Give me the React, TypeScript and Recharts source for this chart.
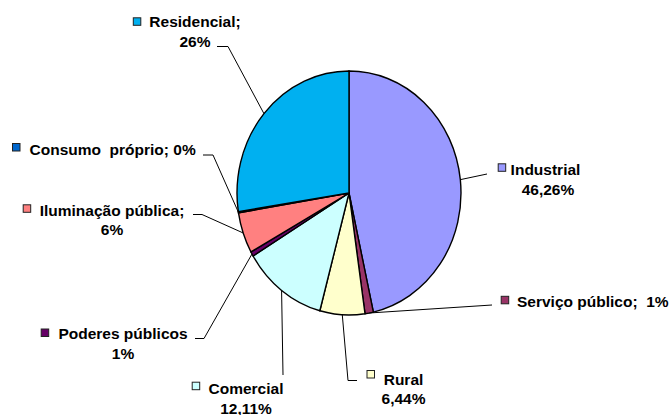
import React from 'react';
import { PieChart, Pie, Cell } from 'recharts';

// ---- data ----
const categories = [
  'Industrial',
  'Serviço público',
  'Rural',
  'Comercial',
  'Poderes públicos',
  'Iluminação pública',
  'Consumo próprio',
  'Residencial',
];
const shares = [46.26, 1.2, 6.44, 12.11, 0.6, 5.4, 0.15, 27.3];
const labelTexts: string[][] = [
  ['Industrial', '46,26%'],
  ['Serviço público;  1%'],
  ['Rural', '6,44%'],
  ['Comercial', '12,11%'],
  ['Poderes públicos', '1%'],
  ['Iluminação pública;', '6%'],
  ['Consumo  próprio; 0%'],
  ['Residencial;', '26%'],
];
const colors = ['#9999FF', '#993366', '#FFFFCC', '#CCFFFF', '#660066', '#FF8080', '#0066CC', '#00B0F0'];

const data = categories.map((name, i) => ({ name, value: shares[i] }));

// ---- layout (label placement) ----
type Lay = { x: number; x2?: number; y: number; y2?: number; anchor?: 'start' | 'middle'; key: [number, number]; path: [number, number][] };
const LAYOUT: Lay[] = [
  { x: 545.5, x2: 548, y: 175, y2: 195, key: [497.7, 163.3], path: [[487, 174]] },
  { x: 517, y: 307, anchor: 'start', key: [500.7, 295.8], path: [[492, 305]] },
  { x: 403.5, y: 385, y2: 403.5, key: [366.5, 370], path: [[348, 380.5], [357, 380.5]] },
  { x: 246, y: 393.5, y2: 413.5, key: [191.7, 381.7], path: [[283, 375]] },
  { x: 123, y: 338.5, y2: 358.5, key: [40.7, 328.5], path: [[204, 338.5], [195, 338.5]] },
  { x: 112, y: 216, y2: 235, key: [22.7, 204.3], path: [[202, 214.5], [193, 214.5]] },
  { x: 29.5, y: 154.5, anchor: 'start', key: [12, 143], path: [[213, 155], [203, 155]] },
  { x: 195, y: 27, y2: 46.5, key: [132.8, 17.3], path: [[228, 46.5], [217, 46.5]] },
];

const CX = 349;
const CY = 193;
const RX = 112;
const RY = 122;
const RAD = Math.PI / 180;
const FONT = '"Liberation Sans", Arial, sans-serif';

const renderLabel = (props: any) => {
  const { midAngle, index } = props;
  const lay = LAYOUT[index];
  const lines = labelTexts[index];
  const ex = CX + RX * Math.cos(-midAngle * RAD);
  const ey = CY + RY * Math.sin(-midAngle * RAD);
  const pts = [[ex, ey], ...lay.path];
  const d = pts.map((p, i) => `${i === 0 ? 'M' : 'L'}${p[0]},${p[1]}`).join(' ');
  const anchor = lay.anchor || 'middle';
  return (
    <g key={`lab-${index}`}>
      <path d={d} fill="none" stroke="#000" strokeWidth={1} />
      <rect x={lay.key[0] + 0.5} y={lay.key[1] + 0.5} width={7.5} height={7.5} fill={colors[index]} stroke="#222" strokeWidth={1} />
      <text x={lay.x} y={lay.y} textAnchor={anchor} fontFamily={FONT} fontWeight="bold" fontSize={15.5} fill="#000" style={{ whiteSpace: 'pre' }}>
        {lines[0]}
      </text>
      {lines[1] && (
        <text x={lay.x2 ?? lay.x} y={lay.y2} textAnchor="middle" fontFamily={FONT} fontWeight="bold" fontSize={15.5} fill="#000">
          {lines[1]}
        </text>
      )}
    </g>
  );
};

export default function App() {
  return (
    <div style={{ position: 'absolute', left: 0, top: 0, width: 671, height: 415, background: '#fff' }}>
      <style>{`
        .recharts-pie-sector { transform: scaleY(${RY / RX}); transform-origin: ${CX}px ${CY}px; }
        .recharts-pie-sector path { vector-effect: non-scaling-stroke; }
      `}</style>
      <PieChart width={671} height={415} margin={{ top: 0, right: 0, bottom: 0, left: 0 }}>
        <Pie
          data={data}
          dataKey="value"
          nameKey="name"
          cx={CX}
          cy={CY}
          outerRadius={RX}
          innerRadius={0}
          startAngle={90}
          endAngle={-270}
          stroke="#000"
          strokeWidth={1.4}
          label={renderLabel}
          labelLine={false}
          isAnimationActive={false}
        >
          {data.map((d, i) => (
            <Cell key={d.name} fill={colors[i]} stroke="#000" strokeWidth={1.4} />
          ))}
        </Pie>
      </PieChart>
    </div>
  );
}
